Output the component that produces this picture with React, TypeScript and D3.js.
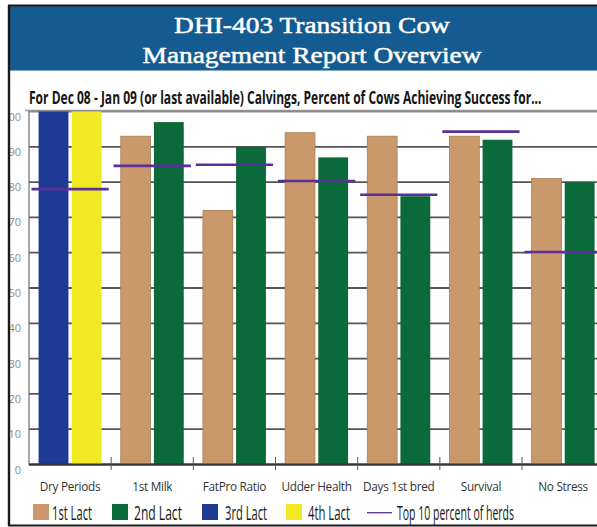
import React, { useLayoutEffect, useRef, useState } from "react";
import * as d3 from "d3";

const categories = ["Dry Periods", "1st Milk", "FatPro Ratio", "Udder Health", "Days 1st bred", "Survival", "No Stress"];
const lact1: (number | null)[] = [null, 93, 72, 94, 93, 93, 81];
const lact2: (number | null)[] = [null, 97, 90, 87, 76, 92, 80];
const lact3: (number | null)[] = [100, null, null, null, null, null, null];
const lact4: (number | null)[] = [100, null, null, null, null, null, null];
const top10: number[] = [78, 84.6, 84.9, 80.3, 76.4, 94.3, 60.2];
const yTicks = [0, 10, 20, 30, 40, 50, 60, 70, 80, 90, 100];
const seriesNames = ["1st Lact", "2nd Lact", "3rd Lact", "4th Lact"];
const top10Label = "Top 10 percent of herds";
const titleLines = ["DHI-403 Transition Cow", "Management Report Overview"];
const subtitle = "For Dec 08 - Jan 09 (or last available) Calvings, Percent of Cows Achieving Success for...";

const colors = ["#c9996b", "#0b6a39", "#1f3a94", "#f1e923"];
const lineColor = "#5b2f97";

function FitText(props: {
  x: number; y: number; width: number; fontSize: number; fontWeight?: number; fill: string;
  fontFamily: string; anchor?: "start" | "middle"; children: string; strokeW?: number;
}) {
  const ref = useRef<SVGTextElement>(null);
  const [sx, setSx] = useState(1);
  useLayoutEffect(() => {
    if (ref.current) {
      const w = ref.current.getComputedTextLength();
      if (w > 0) setSx(props.width / w);
    }
  }, [props.width, props.children]);
  const ax = props.anchor === "middle" ? 0 : 0;
  return (
    <text ref={ref} transform={`translate(${props.x},${props.y}) scale(${sx},1)`} x={ax} y={0}
      textAnchor={props.anchor || "start"} fill={props.fill} fontFamily={props.fontFamily}
      fontSize={props.fontSize} fontWeight={props.fontWeight || 400}
      stroke={props.strokeW ? props.fill : "none"} strokeWidth={props.strokeW || 0}>{props.children}</text>
  );
}

export default function App() {
  const W = 597, H = 527;
  const plotLeft = 29;
  const x = d3.scaleBand<string>().domain(categories).range([plotLeft, plotLeft + 82.17 * categories.length]).padding(0);
  const y = d3.scaleLinear().domain([0, 100]).range([464.5, 111.5]);
  const inner = d3.scaleBand<number>().domain([0, 1]).range([-31.5, 31.5]).paddingInner(0.1);
  const series = [lact1, lact2, lact3, lact4];

  const legendLayout = [
    { sx: 33, tx: 52, tw: 40 },
    { sx: 112, tx: 134, tw: 48 },
    { sx: 202, tx: 225, tw: 42 },
    { sx: 286, tx: 308, tw: 42 },
  ];
  const sans = "'Open Sans', sans-serif";

  return (
    <svg width={W} height={H} style={{ position: "absolute", left: 0, top: 0, background: "#fff" }}>
      <rect x={0} y={0} width={W} height={H} fill="#fff" />
      {/* header */}
      <rect x={10} y={6} width={W - 10} height={64.5} fill="#135b90" />
      {titleLines.map((t, i) => (
        <FitText key={i} x={312} y={32.7 + i * 30.5} anchor="middle" fill="#fff"
          fontFamily="'Liberation Serif', 'DejaVu Serif', serif" fontSize={24} strokeW={0.5}
          width={i === 0 ? 276 : 339}>{t}</FitText>
      ))}
      {/* subtitle */}
      <FitText x={29} y={104} fill="#151515" fontFamily={sans} fontWeight={700} fontSize={17} width={513}>{subtitle}</FitText>
      <line x1={25} x2={W} y1={110.5} y2={110.5} stroke="#9a9a9a" strokeWidth={1.5} />

      {/* gridlines */}
      {yTicks.map(t => (
        <line key={t} x1={plotLeft} x2={W} y1={y(t)} y2={y(t)} stroke={t === 100 ? "#8a8a8a" : "#555"} strokeWidth={1.8} />
      ))}
      {/* y labels */}
      {yTicks.map(t => (
        <text key={t} x={21} y={y(t) + 9} textAnchor="end" fill="#8a8a8a"
          fontFamily={sans} fontSize={11}>{t}</text>
      ))}
      <line x1={plotLeft} x2={plotLeft} y1={111} y2={465} stroke="#777" strokeWidth={1.3} />

      {/* bars */}
      {categories.map((c, ci) => {
        const cx = (x(c) as number) + x.bandwidth() / 2;
        const present = series.map((s, si) => ({ si, v: s[ci] })).filter(d => d.v !== null) as { si: number; v: number }[];
        return present.map((d, k) => (
          <rect key={c + d.si} x={cx + (inner(k) as number)} y={y(d.v)} width={inner.bandwidth()}
            height={y(0) - y(d.v)} fill={colors[d.si]}
            stroke={d.si === 0 ? "#a97d55" : "none"} strokeWidth={0.8} />
        ));
      })}

      {/* top 10 lines */}
      {categories.map((c, ci) => {
        const cx = (x(c) as number) + x.bandwidth() / 2;
        const hw = x.bandwidth() * 0.47;
        return <line key={c} x1={cx - hw} x2={cx + hw} y1={y(top10[ci])} y2={y(top10[ci])} stroke={lineColor} strokeWidth={2.6} />;
      })}

      {/* baseline and ticks */}
      <line x1={plotLeft} x2={W} y1={y(0)} y2={y(0)} stroke="#333" strokeWidth={2} />
      {categories.slice(1).map(c => (
        <line key={c} x1={x(c) as number} x2={x(c) as number} y1={457} y2={470} stroke="#555" strokeWidth={1} />
      ))}

      {/* x labels */}
      {categories.map(c => (
        <text key={c} x={(x(c) as number) + x.bandwidth() / 2} y={490.5} textAnchor="middle" fill="#333"
          fontFamily={sans} fontSize={11.8} letterSpacing={-0.3}>{c}</text>
      ))}

      {/* legend */}
      {seriesNames.map((n, i) => (
        <g key={n}>
          <rect x={legendLayout[i].sx} y={504} width={16} height={16} fill={colors[i]} />
          <FitText x={legendLayout[i].tx} y={519.5} fill="#1a1a1a" fontFamily={sans} fontSize={20}
            width={legendLayout[i].tw}>{n}</FitText>
        </g>
      ))}
      <line x1={367} x2={392} y1={512.7} y2={512.7} stroke={lineColor} strokeWidth={1.3} />
      <FitText x={397} y={519.5} fill="#1a1a1a" fontFamily={sans} fontSize={20} width={117}>{top10Label}</FitText>

      {/* frame */}
      <rect x={0} y={0} width={8} height={H} fill="#fff" />
      <line x1={9} x2={9} y1={5} y2={526} stroke="#1a1a1a" strokeWidth={2.4} />
      <line x1={8} x2={W} y1={5.5} y2={5.5} stroke="#1a1a1a" strokeWidth={2} />
      <line x1={8} x2={W} y1={525.5} y2={525.5} stroke="#1a1a1a" strokeWidth={2} />
    </svg>
  );
}
